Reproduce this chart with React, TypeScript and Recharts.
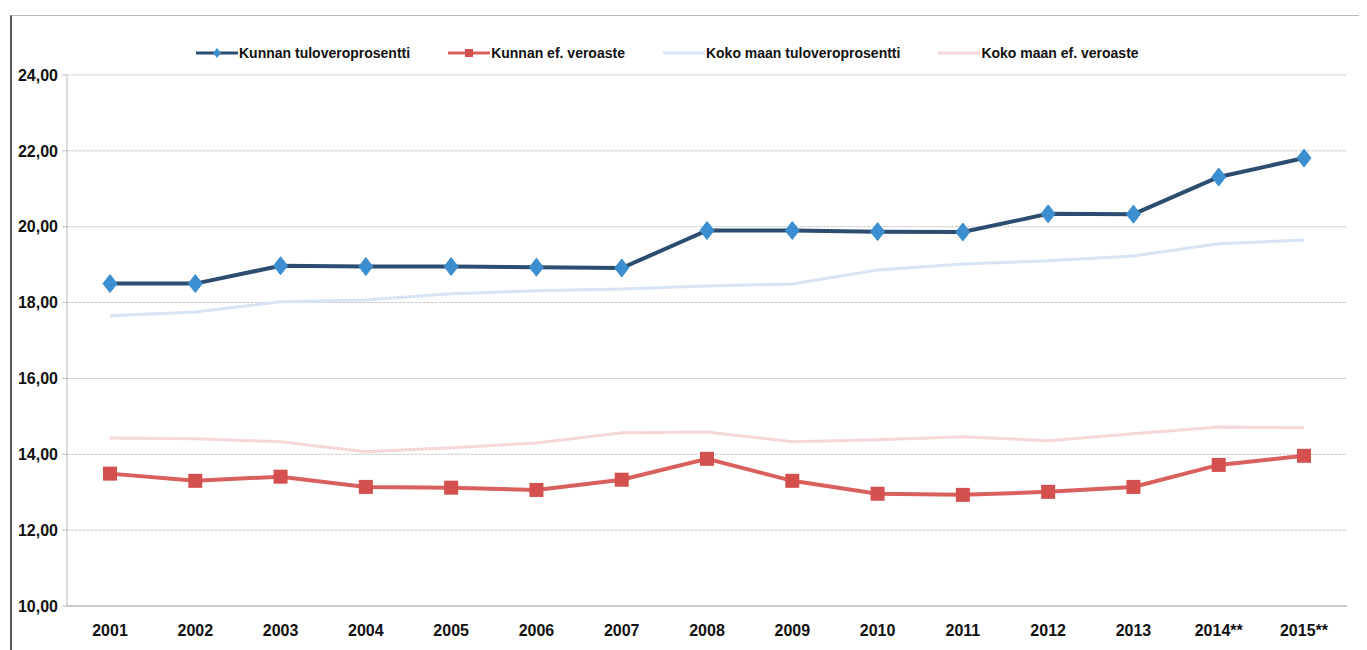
import React from 'react';
import { LineChart, Line, XAxis, YAxis, CartesianGrid, Legend } from 'recharts';

const years = ['2001', '2002', '2003', '2004', '2005', '2006', '2007', '2008', '2009', '2010', '2011', '2012', '2013', '2014**', '2015**'];
const kunnanTulovero = [18.5, 18.5, 18.97, 18.95, 18.95, 18.93, 18.91, 19.9, 19.9, 19.87, 19.86, 20.34, 20.33, 21.31, 21.81];
const kunnanEfVeroaste = [13.49, 13.3, 13.41, 13.14, 13.12, 13.06, 13.33, 13.88, 13.3, 12.96, 12.93, 13.01, 13.14, 13.72, 13.96];
const kokoMaanTulovero = [17.65, 17.75, 18.02, 18.07, 18.23, 18.31, 18.36, 18.44, 18.49, 18.86, 19.02, 19.1, 19.23, 19.55, 19.65];
const kokoMaanEfVeroaste = [14.43, 14.41, 14.33, 14.07, 14.17, 14.3, 14.57, 14.59, 14.33, 14.38, 14.46, 14.36, 14.54, 14.72, 14.7];
const yTicks = [10, 12, 14, 16, 18, 20, 22, 24];

const seriesNames = ['Kunnan tuloveroprosentti', 'Kunnan ef. veroaste', 'Koko maan tuloveroprosentti', 'Koko maan ef. veroaste'];

const data = years.map((y, i) => ({
  year: y,
  kt: kunnanTulovero[i],
  ke: kunnanEfVeroaste[i],
  mt: kokoMaanTulovero[i],
  me: kokoMaanEfVeroaste[i],
}));

const FONT = '"Liberation Sans", Arial, sans-serif';

const Diamond = (props: any) => {
  const { cx, cy } = props;
  if (cx == null || cy == null) return null;
  return <path d={`M${cx},${cy - 9} L${cx + 7},${cy} L${cx},${cy + 9} L${cx - 7},${cy} Z`} fill="#3b8ecf" stroke="#3b8ecf" />;
};

const Square = (props: any) => {
  const { cx, cy } = props;
  if (cx == null || cy == null) return null;
  return <rect x={cx - 7} y={cy - 7} width={14} height={14} fill="#d4504f" />;
};

const legendItems = [
  { name: seriesNames[0], line: '#2b4d70', marker: 'diamond', mcolor: '#3b8ecf' },
  { name: seriesNames[1], line: '#d9605c', marker: 'square', mcolor: '#d4504f' },
  { name: seriesNames[2], line: '#d6e4f4', marker: 'none', mcolor: '' },
  { name: seriesNames[3], line: '#f6d6d6', marker: 'none', mcolor: '' },
];

const LegendContent = () => (
  <div style={{ display: 'flex', alignItems: 'center', fontFamily: FONT, fontWeight: 'bold', fontSize: 14, color: '#111' }}>
    {legendItems.map((it, i) => (
      <div key={i} style={{ display: 'flex', alignItems: 'center', marginRight: i < 3 ? 38 : 0 }}>
        <svg width={42} height={12} style={{ marginRight: 1 }}>
          <line x1={0} y1={6} x2={42} y2={6} stroke={it.line} strokeWidth={3} />
          {it.marker === 'diamond' && <path d="M21,1 L25,6 L21,11 L17,6 Z" fill={it.mcolor} />}
          {it.marker === 'square' && <rect x={17} y={2} width={8} height={8} fill={it.mcolor} />}
        </svg>
        <span>{it.name}</span>
      </div>
    ))}
  </div>
);

export default function App() {
  return (
    <div style={{ position: 'relative', marginLeft: -8, marginTop: -8, width: 1367, height: 650, background: '#fff', overflow: 'hidden' }}>
      <div style={{ position: 'absolute', left: 10, top: 15, width: 1400, height: 700, borderLeft: '2px solid #555', borderTop: '1px solid #bbb' }} />
      <LineChart width={1367} height={650} data={data} margin={{ top: 75, right: 20, bottom: 14, left: 0 }}>
        <CartesianGrid vertical={false} stroke="#c8c8c8" strokeDasharray="3 1" />
        <XAxis
          dataKey="year"
          height={30}
          padding={{ left: 43, right: 43 }}
          tickLine={false}
          axisLine={{ stroke: '#aaa' }}
          tickSize={5}
          tickMargin={14}
          tick={{ fontFamily: FONT, fontWeight: 'bold', fontSize: 16, fill: '#111' }}
          interval={0}
        />
        <YAxis
          domain={[10, 24]}
          ticks={yTicks}
          width={67}
          tickSize={5}
          tickMargin={4}
          axisLine={{ stroke: '#bbb' }}
          tickLine={{ stroke: '#bbb' }}
          tickFormatter={(v: number) => v.toFixed(2).replace('.', ',')}
          tick={{ fontFamily: FONT, fontWeight: 'bold', fontSize: 16, fill: '#111' }}
          allowDataOverflow
        />
        <Legend layout="horizontal" verticalAlign="middle" align="center" wrapperStyle={{ top: 45, left: 196, width: 1100 }} content={<LegendContent />} />
        <Line dataKey="mt" name={seriesNames[2]} stroke="#d6e4f4" strokeWidth={3} dot={false} isAnimationActive={false} />
        <Line dataKey="me" name={seriesNames[3]} stroke="#f6d6d6" strokeWidth={3} dot={false} isAnimationActive={false} />
        <Line dataKey="ke" name={seriesNames[1]} stroke="#d9605c" strokeWidth={4} dot={<Square />} activeDot={false} isAnimationActive={false} />
        <Line dataKey="kt" name={seriesNames[0]} stroke="#2b4d70" strokeWidth={4} dot={<Diamond />} activeDot={false} isAnimationActive={false} />
      </LineChart>
    </div>
  );
}
